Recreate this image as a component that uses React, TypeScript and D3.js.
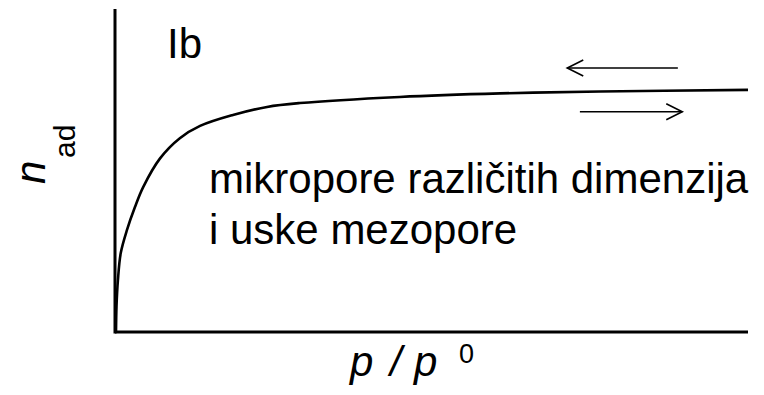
import React from "react";
import * as d3 from "d3";

// Isotherm type Ib (relative pressure vs adsorbed amount, arbitrary units)
const pRel = [0, 0.0008, 0.003, 0.0075, 0.0174, 0.03, 0.043, 0.07, 0.101, 0.133, 0.185, 0.239, 0.291, 0.449, 0.608, 0.766, 1.0];
const nAd = [0, 0.08, 0.16, 0.245, 0.317, 0.388, 0.45, 0.54, 0.602, 0.64, 0.674, 0.699, 0.711, 0.73, 0.741, 0.747, 0.752];

// hysteresis-direction arrows: [x start, x end, y] in data units
const arrowX1 = [0.889, 0.734];
const arrowX2 = [0.714, 0.896];
const arrowY = [0.82, 0.684];

const typeLabel = "Ib";
const noteLines = ["mikropore različitih dimenzija", "i uske mezopore"];

const W = 764;
const H = 395;
const FONT = "'Liberation Sans', Arial, Helvetica, sans-serif";

export default function App() {
  const x = d3.scaleLinear().domain([0, 1]).range([116, 748]);
  const y = d3.scaleLinear().domain([0, 1]).range([332, 10]);

  const data = pRel.map((p, i) => [p, nAd[i]] as [number, number]);
  const line = d3
    .line<[number, number]>()
    .x((d) => x(d[0]))
    .y((d) => y(d[1]))
    .curve(d3.curveCatmullRom.alpha(0.5));

  const head = 16;
  const half = 8;

  return (
    <svg
      width={W}
      height={H}
      style={{ position: "absolute", left: 0, top: 0, display: "block", background: "#fff" }}
    >
      <rect x={0} y={0} width={W} height={H} fill="#fff" />
      {/* axes */}
      <line x1={x(0) - 1} y1={y(0)} x2={x(1)} y2={y(0)} stroke="#000" strokeWidth={3} />
      <line x1={x(0) - 1} y1={y(0) + 1.5} x2={x(0) - 1} y2={y(1) - 1} stroke="#000" strokeWidth={3} />
      {/* isotherm */}
      <path d={line(data) || ""} fill="none" stroke="#000" strokeWidth={2.6} strokeLinejoin="round" />
      {/* arrows */}
      {arrowY.map((ay, i) => {
        const x1 = x(arrowX1[i]);
        const x2 = x(arrowX2[i]);
        const yy = y(ay);
        const dir = x2 > x1 ? 1 : -1;
        return (
          <g key={i} stroke="#000" strokeWidth={1.6} fill="none">
            <line x1={x1} y1={yy} x2={x2} y2={yy} />
            <polyline points={`${x2 - dir * head},${yy - half} ${x2},${yy} ${x2 - dir * head},${yy + half}`} />
          </g>
        );
      })}
      {/* labels */}
      <text x={167} y={58} fontFamily={FONT} fontSize={42} fill="#000">
        {typeLabel}
      </text>
      {noteLines.map((t, i) => (
        <text key={i} x={209} y={193 + i * 51} fontFamily={FONT} fontSize={42} fill="#000">
          {t}
        </text>
      ))}
      {/* y axis label */}
      <text transform="translate(45,184) rotate(-90)" fontFamily={FONT} fontSize={42} fontStyle="italic" fill="#000">
        n
      </text>
      <text transform="translate(75,158) rotate(-90)" fontFamily={FONT} fontSize={30} fill="#000">
        ad
      </text>
      {/* x axis label */}
      <text x={350} y={376} fontFamily={FONT} fontSize={42} fontStyle="italic" fill="#000">p</text>
      <text x={390} y={376} fontFamily={FONT} fontSize={42} fontStyle="italic" fill="#000">/</text>
      <text x={414} y={376} fontFamily={FONT} fontSize={42} fontStyle="italic" fill="#000">p</text>
      <text x={459} y={363} fontFamily={FONT} fontSize={27} fill="#000">0</text>
    </svg>
  );
}
